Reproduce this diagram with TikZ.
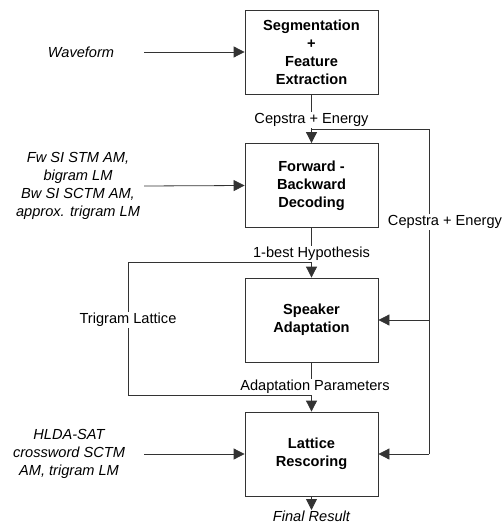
\documentclass[tikz,border=0pt]{standalone}
\usepackage{fontspec}
\setmainfont{Liberation Sans}
\usetikzlibrary{arrows.meta}

\begin{document}
\fontsize{14.6pt}{18pt}\selectfont
\begin{tikzpicture}[x=1pt, y=-1pt, line width=0.8pt, draw=black!80,
    >={Triangle[length=11pt, width=11pt]},
    box/.style={draw=black!80, rectangle, minimum width=133pt, minimum height=84pt,
                align=center, font=\bfseries, inner sep=2pt},
    src/.style={align=center, font=\itshape},
    lbl/.style={fill=white, inner sep=1pt}]

    % --- 定义变量 ---
    % 方框中心的 x 坐标
    \def\cx{311.5}
    \useasboundingbox (0,0) rectangle (503,526);

    % --- 1. 四个处理方框 ---
    \node[box] (seg) at (\cx, 52)    {Segmentation\\+\\Feature\\Extraction};
    \node[box] (fbd) at (\cx, 185.5) {Forward -\\Backward\\Decoding};
    \node[box] (spk) at (\cx, 320)   {Speaker\\Adaptation};
    \node[box] (lat) at (\cx, 454)   {Lattice\\Rescoring};

    % --- 2. 左侧的输入 ---
    \coordinate (xin) at (144, 0);
    \node[src] (wave) at (81, 52)  {Waveform};
    \node[src] (fwsi) at (78, 186) {Fw SI STM AM,\\bigram LM\\Bw SI SCTM AM,\\approx. trigram LM};
    \node[src] (hlda) at (69, 454) {HLDA-SAT\\crossword SCTM\\AM, trigram LM};
    \draw[->] (wave.east -| xin) -- (seg.west);
    \draw[->] (fwsi.east -| xin) -- (fbd.west);
    \draw[->] (hlda.east -| xin) -- (lat.west);

    % --- 3. 方框之间的竖线和标签 ---
    \draw[->] (seg.south) -- (fbd.north);
    \node[lbl] (cep1) at (\cx, 120) {Cepstra + Energy};
    \draw[->] (fbd.south) -- (spk.north);
    \node[lbl] (hyp) at (\cx, 254) {1-best Hypothesis};
    \draw[->] (spk.south) -- (lat.north);
    \node[lbl] (adapt) at (315, 387) {Adaptation Parameters};

    % --- 4. 右侧回路: Cepstra + Energy ---
    \coordinate (tap1) at (\cx, 129);
    \coordinate (rx) at (429, 0);
    \draw (tap1) -- (tap1 -| rx) -- (lat.east -| rx);
    \draw[->] (spk.east -| rx) -- (spk.east);
    \draw[->] (lat.east -| rx) -- (lat.east);
    \node[lbl] (cep2) at (445, 222) {Cepstra + Energy};

    % --- 5. 左侧回路: Trigram Lattice ---
    \coordinate (tap2) at (\cx, 262);
    \coordinate (tap3) at (\cx, 395);
    \coordinate (lx) at (128, 0);
    \draw (tap2) -- (tap2 -| lx) -- (tap3 -| lx) -- (tap3);
    \node[lbl] (trig) at (lx |- spk) {Trigram Lattice};

    % --- 6. 最终结果 ---
    \node[anchor=north, font=\itshape, inner sep=0.5pt] (final) at (\cx, 510) {Final Result};
    \draw[->] (lat.south) -- (final.north);

\end{tikzpicture}
\end{document}
